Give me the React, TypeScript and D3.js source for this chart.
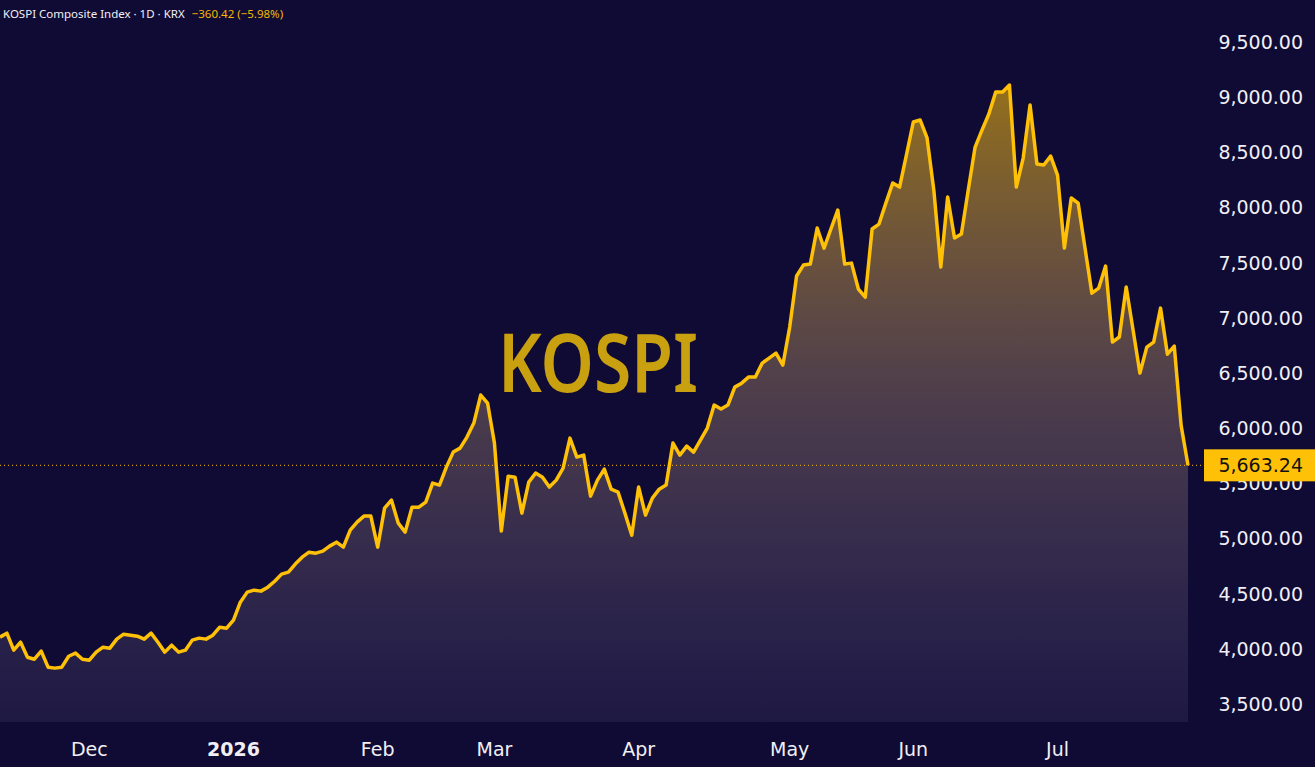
import React from 'react';
import * as d3 from 'd3';

// daily closes (oldest first)
const closes = [
  4106, 4142, 3988, 4060, 3924, 3906, 3979, 3834, 3825, 3834,
  3933, 3961, 3906, 3897, 3970, 4015, 4006, 4088, 4133, 4124,
  4115, 4088, 4142, 4060, 3970, 4033, 3970, 3988, 4079, 4097,
  4088, 4124, 4196, 4187, 4260, 4423, 4514, 4532, 4523, 4559,
  4613, 4677, 4695, 4768, 4831, 4876, 4867, 4885, 4931, 4967,
  4922, 5076, 5148, 5203, 5203, 4922, 5275, 5348, 5139, 5058,
  5284, 5284, 5330, 5502, 5484, 5647, 5783, 5819, 5919, 6046,
  6300, 6227, 5865, 5067, 5565, 5556, 5230, 5511, 5593, 5556,
  5466, 5529, 5638, 5910, 5738, 5756, 5384, 5529, 5629, 5447,
  5420, 5230, 5030, 5466, 5212, 5366, 5447, 5484, 5865, 5756,
  5837, 5783, 5892, 6001, 6209, 6173, 6209, 6372, 6408, 6463,
  6463, 6590, 6635, 6680, 6572, 6916, 7379, 7478, 7487, 7814,
  7632, 7805, 7977, 7487, 7496, 7261, 7188, 7805, 7850, 8040,
  8222, 8185, 8476, 8775, 8793, 8630, 8149, 7460, 8095, 7723,
  7759, 8158, 8548, 8702, 8847, 9047, 9047, 9110, 8185, 8448,
  8929, 8394, 8385, 8466, 8294, 7632, 8086, 8040, 7632, 7224,
  7270, 7469, 6780, 6826, 7279, 6889, 6499, 6735, 6780, 7088,
  6671, 6744, 6023.66, 5663.24,
];

const monthLabels = ['Dec', '2026', 'Feb', 'Mar', 'Apr', 'May', 'Jun', 'Jul'];
const monthIndex = [13, 34, 55, 72, 93, 115, 133, 154];
const yTicks = [3500, 4000, 4500, 5000, 5500, 6000, 6500, 7000, 7500, 8000, 8500, 9000, 9500];

const title = 'KOSPI Composite Index · 1D · KRX';
const change = -360.42;
const changePct = -5.98;

const W = 1315;
const H = 767;
const BG = '#100b34';
const GOLD = '#ffc107';
const AXIS_FONT = '"DejaVu Sans", sans-serif';
const FONT = '"Noto Sans", "Open Sans", sans-serif';

export default function App() {
  const last = closes[closes.length - 1];
  const x = d3.scaleLinear().domain([0, closes.length - 1]).range([0, 1188]);
  const y = d3.scaleLinear().domain([3500, 9500]).range([704, 42]);
  const paneBottom = 722;

  const line = d3.line<number>().x((_, i) => x(i)).y((d) => y(d));
  const area = d3.area<number>().x((_, i) => x(i)).y0(paneBottom).y1((d) => y(d));
  const fmt = d3.format(',.2f');
  const minus = (s: string) => s.replace('-', '−');

  return (
    <svg width={W} height={H} style={{ position: 'absolute', left: 0, top: 0, display: 'block' }}>
      <defs>
        <linearGradient id="fillGrad" gradientUnits="userSpaceOnUse" x1="0" y1={y(9100)} x2="0" y2={paneBottom}>
          <stop offset="0%" stopColor="#ffc107" stopOpacity={0.55} />
          <stop offset="45%" stopColor="#c8a070" stopOpacity={0.36} />
          <stop offset="100%" stopColor="#9a90c8" stopOpacity={0.1} />
        </linearGradient>
      </defs>
      <rect width={W} height={H} fill={BG} />

      {/* watermark */}
      <text x={598} y={392} textAnchor="middle" fontFamily={FONT} fontSize={82} fontWeight={600}
        fill="#c9a010" textLength={200} lengthAdjust="spacingAndGlyphs">KOSPI</text>

      <path d={area(closes) || ''} fill="url(#fillGrad)" />
      <path d={line(closes) || ''} fill="none" stroke={GOLD} strokeWidth={3.5} strokeLinejoin="round" />

      {/* last price line */}
      <line x1={0} x2={1204} y1={y(last)} y2={y(last)} stroke={GOLD} strokeWidth={1} strokeDasharray="1 3" />

      {/* right axis */}
      {yTicks.map((t) => (
        <text key={t} x={1303} y={y(t)} dy="0.36em" textAnchor="end" fontFamily={AXIS_FONT} fontSize={19} fill="#f0f0f4">
          {fmt(t)}
        </text>
      ))}
      <rect x={1204} y={y(last) - 16} width={111} height={32} fill={GOLD} />
      <text x={1303} y={y(last)} dy="0.36em" textAnchor="end" fontFamily={AXIS_FONT} fontSize={19} fill="#111">
        {fmt(last)}
      </text>

      {/* time axis */}
      {monthLabels.map((m, i) => (
        <text key={m} x={x(monthIndex[i])} y={756} textAnchor="middle" fontFamily={AXIS_FONT} fontSize={19}
          fontWeight={m === '2026' ? 700 : 400} fill="#f0f0f4">
          {m}
        </text>
      ))}

      {/* header */}
      <text x={3} y={18} fontFamily={FONT} fontSize={11.5} fill="#f0f0f4">
        {title}
        <tspan dx={7} fill="#f5b700">{minus(fmt(change))} ({minus(changePct.toFixed(2))}%)</tspan>
      </text>
    </svg>
  );
}
